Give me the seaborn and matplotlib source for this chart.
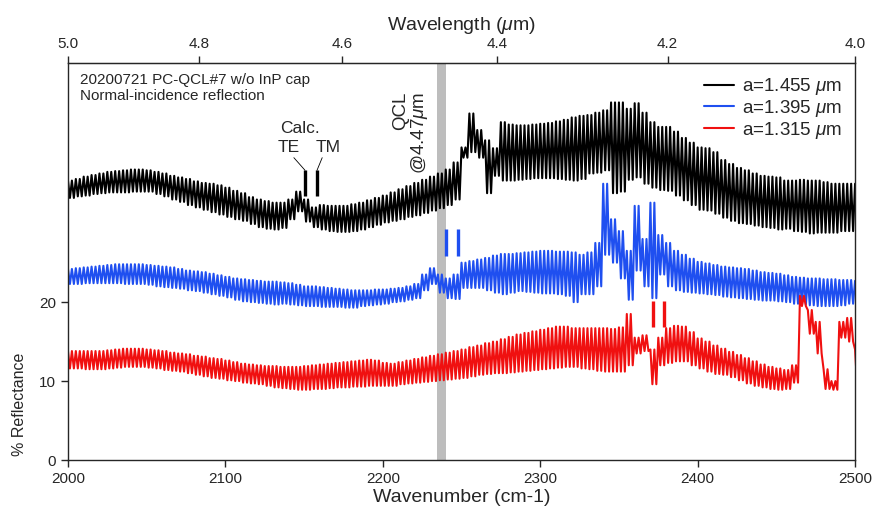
import numpy as np
import pandas as pd
import matplotlib
matplotlib.use("Agg")
import matplotlib.pyplot as plt
import seaborn as sns

# wavenumber grid of the envelope readings (cm-1), every 5 cm-1
wn = np.arange(2000, 2501, 5)

# a = 1.455 um (black): upper / lower fringe envelope
black_hi = [35.4, 35.6, 35.9, 36.1, 36.3, 36.5, 36.6, 36.7, 36.8, 36.8,
            36.7, 36.5, 36.3, 36.0, 35.8, 35.6, 35.3, 35.1, 35.0, 34.8,
            34.5, 34.1, 33.8, 33.3, 33.0, 32.8, 32.6, 32.6, 33.0, 34.0,
            33.0, 32.0, 32.3, 32.2, 32.2, 32.2, 32.4, 32.6, 32.9, 33.2,
            33.5, 33.9, 34.3, 34.7, 35.1, 35.5, 35.9, 36.3, 36.8, 37.7,
            39.6, 43.9, 41.8, 40.5, 39.5, 42.8, 42.5, 42.4, 42.4, 42.5,
            42.6, 42.7, 42.9, 43.1, 43.4, 43.6, 43.7, 44.0, 44.3, 45.3,
            45.3, 44.5, 45.2, 44.0, 42.8, 42.2, 42.2, 41.6, 40.8, 40.2,
            39.6, 39.5, 39.0, 38.0, 37.5, 37.0, 36.7, 36.3, 36.0, 35.9,
            35.8, 35.4, 35.4, 35.5, 35.4, 35.4, 35.2, 35.0, 35.0, 35.0,
            35.0]
black_lo = [33.2, 33.4, 33.5, 33.7, 33.8, 33.9, 33.9, 33.9, 34.0, 34.0,
            34.0, 33.7, 33.4, 33.0, 32.7, 32.3, 32.0, 31.7, 31.4, 31.1,
            30.8, 30.5, 30.3, 29.9, 29.5, 29.3, 29.2, 29.4, 30.5, 31.5,
            30.2, 29.5, 29.2, 29.0, 28.9, 28.9, 29.0, 29.2, 29.5, 29.8,
            30.1, 30.3, 30.5, 30.8, 31.0, 31.3, 31.6, 31.9, 32.3, 33.0,
            38.3, 39.0, 38.3, 33.8, 36.0, 35.4, 35.4, 35.5, 35.6, 35.7,
            35.7, 35.7, 35.6, 35.5, 35.4, 35.6, 36.3, 36.4, 36.7, 33.8,
            34.0, 35.5, 35.8, 35.0, 34.5, 34.2, 34.1, 33.5, 32.9, 32.3,
            31.7, 31.6, 31.2, 30.7, 30.3, 30.0, 29.9, 29.7, 29.5, 29.4,
            29.2, 29.3, 29.0, 28.9, 28.7, 28.8, 28.8, 28.8, 29.0, 29.0,
            29.0]

# a = 1.395 um (blue)
blue_hi = [24.2, 24.3, 24.4, 24.5, 24.6, 24.7, 24.8, 24.8, 24.8, 24.8,
           24.7, 24.6, 24.5, 24.4, 24.2, 24.0, 23.9, 23.8, 23.6, 23.4,
           23.2, 23.0, 22.9, 22.8, 22.7, 22.6, 22.6, 22.5, 22.4, 22.2,
           22.0, 22.0, 21.9, 21.8, 21.7, 21.6, 21.5, 21.5, 21.5, 21.6,
           21.6, 21.7, 21.8, 22.0, 22.3, 23.5, 24.3, 23.5, 23.0, 23.5,
           25.0, 25.2, 25.4, 25.6, 25.9, 26.1, 26.1, 26.2, 26.3, 26.4,
           26.5, 26.5, 26.4, 26.4, 26.3, 26.0, 26.3, 27.5, 35.0, 30.5,
           29.0, 26.5, 32.2, 28.0, 32.6, 28.5, 27.5, 26.5, 26.0, 25.5,
           25.1, 24.9, 24.7, 24.5, 24.4, 24.3, 24.2, 24.0, 23.8, 23.7,
           23.6, 23.4, 23.2, 23.1, 23.0, 23.0, 22.9, 22.9, 22.8, 22.8,
           22.7]
blue_lo = [22.3, 22.3, 22.4, 22.4, 22.4, 22.4, 22.4, 22.3, 22.3, 22.3,
           22.2, 22.0, 21.9, 21.8, 21.7, 21.5, 21.4, 21.2, 21.0, 20.8,
           20.6, 20.3, 20.1, 20.0, 19.9, 19.8, 19.7, 19.8, 19.7, 19.6,
           19.5, 19.5, 19.4, 19.4, 19.4, 19.3, 19.3, 19.5, 19.6, 19.7,
           19.8, 20.0, 20.1, 20.3, 20.5, 21.5, 22.3, 21.2, 20.5, 20.4,
           21.8, 21.8, 21.8, 21.5, 21.2, 21.0, 21.2, 21.4, 21.3, 21.2,
           21.1, 21.1, 21.0, 20.8, 20.0, 21.0, 21.0, 22.0, 26.0, 25.0,
           23.0, 20.3, 24.0, 22.0, 20.5, 23.5, 22.0, 21.5, 21.3, 21.2,
           21.1, 21.0, 20.9, 20.7, 20.6, 20.5, 20.4, 20.3, 20.2, 20.2,
           20.1, 20.0, 19.8, 19.7, 19.6, 19.5, 19.5, 19.5, 19.6, 19.8,
           19.9]

# a = 1.315 um (red)
red_hi = [13.8, 13.8, 13.8, 13.8, 13.8, 13.9, 14.0, 14.1, 14.1, 14.1,
          14.0, 13.9, 13.8, 13.6, 13.5, 13.4, 13.2, 13.1, 12.9, 12.8,
          12.6, 12.4, 12.2, 12.1, 12.0, 11.9, 11.9, 11.8, 11.8, 11.8,
          11.9, 12.0, 12.1, 12.2, 12.3, 12.4, 12.5, 12.6, 12.7, 12.6,
          12.3, 12.2, 12.4, 12.6, 12.8, 13.0, 13.2, 13.4, 13.6, 13.8,
          14.0, 14.3, 14.5, 14.8, 15.0, 15.3, 15.6, 15.9, 16.1, 16.3,
          16.5, 16.7, 16.9, 16.9, 16.7, 16.7, 16.7, 16.7, 16.7, 16.6,
          16.8, 18.5, 15.5, 15.8, 14.0, 15.5, 16.7, 17.0, 16.9, 16.2,
          15.4, 15.0, 14.5, 14.1, 13.7, 13.3, 12.9, 12.5, 12.1, 11.8,
          11.6, 11.4, 12.0, 20.8, 19.0, 17.5, 11.5, 10.0, 17.5, 18.0,
          14.0]
red_lo = [11.6, 11.6, 11.5, 11.5, 11.5, 11.6, 11.7, 11.8, 11.8, 11.8,
          11.7, 11.6, 11.4, 11.3, 11.2, 11.0, 10.8, 10.6, 10.4, 10.3,
          10.1, 10.0, 9.8, 9.7, 9.6, 9.4, 9.2, 9.1, 9.0, 8.9,
          8.9, 9.0, 9.0, 9.1, 9.2, 9.2, 9.3, 9.3, 9.4, 9.4,
          9.4, 9.4, 9.6, 9.7, 9.8, 9.9, 10.0, 10.1, 10.2, 10.3,
          10.4, 10.6, 10.8, 10.9, 11.0, 11.0, 11.1, 11.2, 11.3, 11.4,
          11.5, 11.6, 11.7, 11.8, 11.8, 11.6, 11.5, 11.3, 11.2, 11.2,
          11.2, 12.0, 13.5, 13.8, 9.6, 12.0, 12.3, 12.5, 12.5, 12.0,
          11.6, 11.2, 10.9, 10.8, 10.5, 10.1, 9.7, 9.4, 9.2, 9.0,
          8.9, 9.0, 9.8, 19.5, 16.0, 13.5, 9.0, 8.9, 15.5, 15.0,
          9.6]

labels = ["a=1.455 $\\mu$m", "a=1.395 $\\mu$m", "a=1.315 $\\mu$m"]
colors = ["black", "#1f4ff0", "#f01010"]

# calculated TE/TM positions (cm-1)
calc_black = [2150.6, 2158.2]
calc_blue = [2240.2, 2247.8]
calc_red = [2371.7, 2378.7]
qcl_wl = 4.47


def fringe_trace(hi, lo):
    # each reading covers two fringes: peak, valley, peak, valley
    x = (wn[:, None] + np.array([0, 1.25, 2.5, 3.75])[None, :]).ravel()
    y = np.column_stack([hi, lo, hi, lo]).ravel()
    return x, y


frames = []
for lab, hi, lo in zip(labels, [black_hi, blue_hi, red_hi], [black_lo, blue_lo, red_lo]):
    x, y = fringe_trace(hi, lo)
    frames.append(pd.DataFrame({"wn": x, "R": y, "series": lab}))
df = pd.concat(frames, ignore_index=True)

sns.set_style("ticks")
plt.rcParams["font.family"] = ["Liberation Sans", "DejaVu Sans"]
plt.rcParams["mathtext.fontset"] = "custom"
plt.rcParams["mathtext.it"] = "Liberation Sans:italic"
plt.rcParams["mathtext.rm"] = "Liberation Sans"

fig = plt.figure(figsize=(8.77, 5.16), dpi=100)
ax = fig.add_axes([0.0775, 0.1085, 0.8975, 0.7695])

ax.axvspan(1e4 / qcl_wl - 2.8, 1e4 / qcl_wl + 2.8, color="#bdbdbd", lw=0, zorder=0)

sns.lineplot(data=df, x="wn", y="R", hue="series", palette=dict(zip(labels, colors)),
             sort=False, estimator=None, lw=1.5, ax=ax)

for xs, y0, y1, c in [(calc_black, 33.5, 36.7, "black"),
                      (calc_blue, 25.9, 29.3, colors[1]),
                      (calc_red, 16.9, 20.1, colors[2])]:
    ax.vlines(xs, y0, y1, color=c, lw=2.4)

ax.text(2147.4, 42.0, "Calc.", ha="center", va="center", fontsize=12.5)
ax.text(2140.4, 39.6, "TE", ha="center", va="center", fontsize=12.5)
ax.text(2165.0, 39.6, "TM", ha="center", va="center", fontsize=12.5)
ax.plot([2143.5, 2150.6], [38.3, 36.7], color="black", lw=0.6)
ax.plot([2161.5, 2158.2], [38.3, 36.7], color="black", lw=0.6)

ax.text(2218.0, 41.5, "QCL\n@4.47$\\mu$m", rotation=90, ha="center", va="center",
        multialignment="right", fontsize=13.5, linespacing=0.95)

ax.text(0.015, 0.975, "20200721 PC-QCL#7 w/o InP cap\nNormal-incidence reflection",
        transform=ax.transAxes, ha="left", va="top", fontsize=11, linespacing=1.15)

ax.set_xlim(2000, 2500)
ax.set_ylim(0, 50.3)
ax.set_xticks([2000, 2100, 2200, 2300, 2400, 2500])
ax.set_yticks([0, 10, 20])
ax.set_xlabel("Wavenumber (cm-1)", fontsize=14, labelpad=2)
ax.set_ylabel("% Reflectance", fontsize=11.5)
ax.yaxis.set_label_coords(-0.052, 0.14)
ax.tick_params(direction="out", length=5, labelsize=11, width=1)
for s in ax.spines.values():
    s.set_visible(True)
    s.set_linewidth(1)


def to_wl(x):
    x = np.asarray(x, dtype=float)
    with np.errstate(divide="ignore"):
        return 1e4 / x


sec = ax.secondary_xaxis("top", functions=(to_wl, to_wl))
sec.set_xticks([5.0, 4.8, 4.6, 4.4, 4.2, 4.0])
sec.set_xticklabels(["5.0", "4.8", "4.6", "4.4", "4.2", "4.0"])
sec.set_xlabel("Wavelength ($\\mu$m)", fontsize=14, labelpad=5)
sec.tick_params(direction="out", length=5, labelsize=11, width=1)

handles, labs = ax.get_legend_handles_labels()
for h in handles:
    h.set_linewidth(1.5)
ax.legend(handles, labs, loc="upper right", frameon=False, fontsize=13.5,
          handlelength=1.6, labelspacing=0.05, borderaxespad=0.3, handletextpad=0.4)

fig.savefig("out.png", dpi=100)
